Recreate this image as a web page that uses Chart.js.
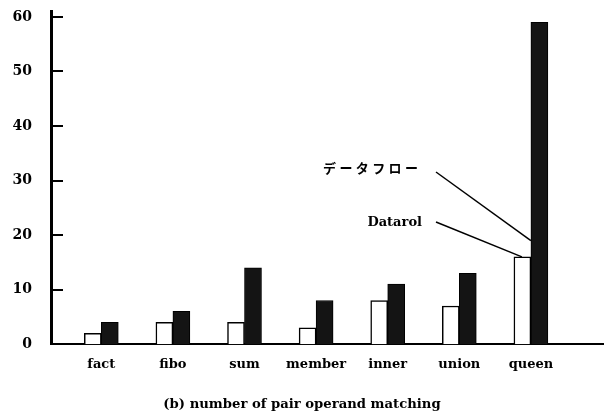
<!DOCTYPE html>
<html><head><meta charset="utf-8">
<script src="https://cdn.jsdelivr.net/npm/chart.js@4"></script>
<style>html,body{margin:0;padding:0;background:#fff}</style>
</head><body>
<canvas id="c" width="604" height="414" style="display:block;width:604px;height:414px"></canvas>
<script>
const categories = ['fact','fibo','sum','member','inner','union','queen'];
const datarolValues = [2,4,4,3,8,7,16];
const dataflowValues = [4,6,14,8,11,13,59];
const yTicks = [0,10,20,30,40,50,60];
const seriesNames = ['Datarol','データフロー'];
const titleText = '(b) number of pair operand matching';

const serif = 'DejaVu Serif';

const annot = {
  id:'annot',
  afterDraw(chart){
    const {ctx, scales:{x, y}} = chart;
    ctx.save();
    ctx.strokeStyle = '#000';
    ctx.lineWidth = 2;
    yTicks.forEach(v => {
      if (v === 0) return;
      const py = Math.round(y.getPixelForValue(v));
      ctx.beginPath(); ctx.moveTo(x.left, py); ctx.lineTo(x.left + 12, py); ctx.stroke();
    });
    ctx.fillStyle = '#000';
    ctx.textBaseline = 'middle';
    ctx.font = 'bold 13px "Noto Sans CJK JP"';
    const jp = seriesNames[1];
    for (let i = 0; i < jp.length; i++) {
      ctx.textAlign = 'left';
      ctx.fillText(jp[i], 323 + i * 16.4, 168);
    }
    ctx.font = 'bold 13px "' + serif + '"';
    ctx.textAlign = 'right';
    ctx.fillText(seriesNames[0], 422, 223);
    ctx.lineWidth = 1.5;
    const qx = x.getPixelForValue(categories.length);
    ctx.beginPath();
    ctx.moveTo(436, 172);
    ctx.lineTo(qx, y.getPixelForValue(19));
    ctx.stroke();
    ctx.beginPath();
    ctx.moveTo(436, 222);
    ctx.lineTo(qx - 9, y.getPixelForValue(datarolValues[6]));
    ctx.stroke();
    ctx.restore();
  }
};

new Chart(document.getElementById('c'), {
  type: 'bar',
  data: {
    datasets: [
      { label: seriesNames[0], data: categories.map((c,i)=>({x:i+1, y:datarolValues[i]})),
        backgroundColor:'#fff', borderColor:'#000', borderWidth:1.5, barThickness:17 },
      { label: seriesNames[1], data: categories.map((c,i)=>({x:i+1, y:dataflowValues[i]})),
        backgroundColor:'#141414', borderColor:'#000', borderWidth:1, barThickness:17 }
    ]
  },
  options: {
    responsive:false, animation:false, devicePixelRatio:1,
    layout:{padding:{top:11.5, right:0, bottom:0, left:0}},
    plugins:{
      legend:{display:false}, tooltip:{enabled:false},
      title:{display:true, position:'bottom', text:titleText, color:'#000',
        font:{family:serif, weight:'bold', size:13.2}, padding:{top:0, bottom:2}}
    },
    scales:{
      x:{ type:'linear', min:0.2975, max:8.021, z:1, offset:false,
        grid:{display:false, drawTicks:false, offset:false},
        border:{display:true, color:'#000', width:2},
        afterBuildTicks: s => { s.ticks = categories.map((c,i)=>({value:i+1})); },
        ticks:{ autoSkip:false, maxRotation:0, color:'#000',
          callback: v => categories[Math.round(v)-1] ?? '',
          font:{family:serif, weight:'bold', size:13}, padding:13 },
        afterFit: s => { s.height = 52; s.paddingLeft = 0; s.paddingRight = 0; }
      },
      y:{ min:0, max:61,
        afterBuildTicks: s => { s.ticks = yTicks.map(v=>({value:v})); },
        grid:{display:false, drawTicks:false},
        border:{display:true, color:'#000', width:3},
        ticks:{ color:'#000', font:{family:serif, weight:'bold', size:14}, padding:19 },
        afterFit: s => { s.width = 51; s.paddingTop = 0; s.paddingBottom = 0; }
      }
    }
  },
  plugins:[annot]
});
</script>
</body></html>
